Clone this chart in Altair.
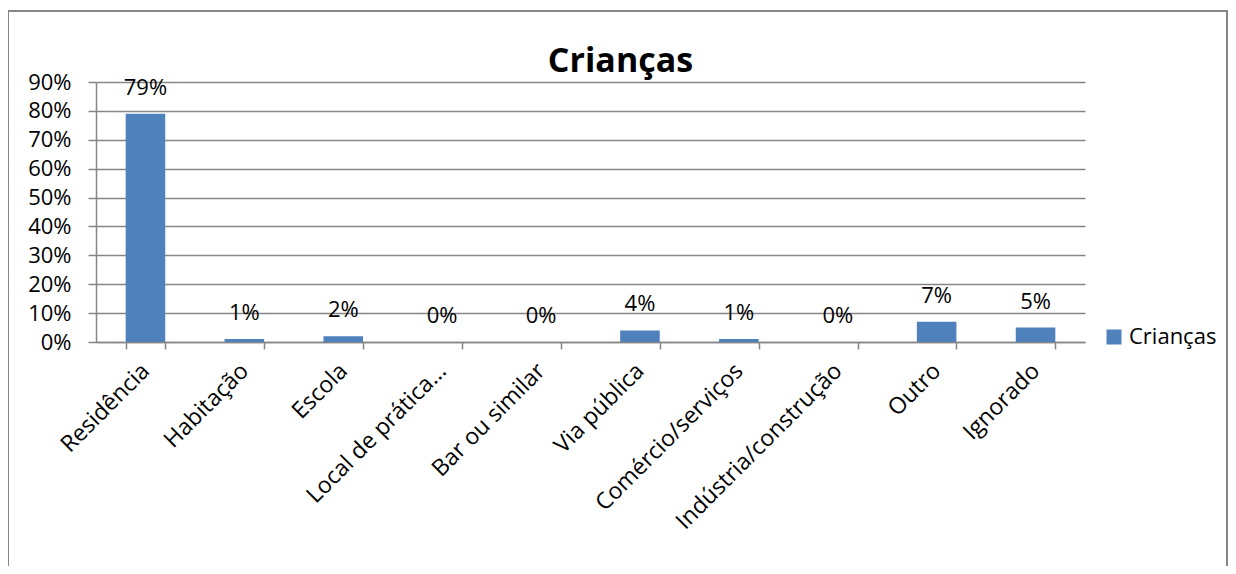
import altair as alt
import pandas as pd

categories = ["Residência", "Habitação", "Escola", "Local de prática...", "Bar ou similar",
              "Via pública", "Comércio/serviços", "Indústria/construção", "Outro", "Ignorado"]
values = [0.79, 0.01, 0.02, 0.0, 0.0, 0.04, 0.01, 0.0, 0.07, 0.05]
series = ["Crianças"] * len(categories)
y_ticks = [0, 0.1, 0.2, 0.3, 0.4, 0.5, 0.6, 0.7, 0.8, 0.9]

df = pd.DataFrame({"cat": categories, "val": values, "series": series})

FONT = "Open Sans"
GRAY = "#868686"
BLUE = "#4F81BD"

x_enc = alt.X("cat:N", sort=categories, title=None,
              scale=alt.Scale(paddingInner=0.6, paddingOuter=0.3),
              axis=alt.Axis(labelAngle=-45, labelAlign="right", labelBaseline="middle",
                            labelFontSize=23, labelFont=FONT, labelColor="black",
                            labelPadding=18, tickSize=7, tickColor=GRAY, tickWidth=1.5,
                            domainColor=GRAY, domainWidth=1.5, tickBand="extent",
                            grid=False, labelLimit=400, labelOverlap=False))
y_enc = alt.Y("val:Q", title=None,
              scale=alt.Scale(domain=[0, 0.9], nice=False),
              axis=alt.Axis(values=y_ticks, format=".0%", labelFontSize=22, labelFont=FONT,
                            labelColor="black", tickSize=8, tickColor=GRAY, tickWidth=1.5,
                            domainColor=GRAY, domainWidth=1.5, gridColor=GRAY, gridWidth=1.5,
                            labelPadding=17, labelOverlap=False))

base = alt.Chart(df).encode(x=x_enc, y=y_enc)

bars = base.mark_bar(color=BLUE).encode(
    color=alt.Color("series:N", scale=alt.Scale(range=[BLUE]), title=None,
                    legend=alt.Legend(orient="none", legendX=1007, legendY=244,
                                      symbolType="square", symbolSize=225,
                                      symbolStrokeWidth=0, labelFontSize=22,
                                      labelFont=FONT, labelColor="black", padding=0,
                                      labelOffset=4))
)

labels = base.mark_text(fontSize=22, font=FONT, color="black",
                        baseline="alphabetic", dy=-19).encode(
    text=alt.Text("val:Q", format=".0%")
)

border = alt.Chart(alt.Data(values=[{"a": 1}])).mark_rect(
    fillOpacity=0, stroke=GRAY, strokeWidth=2
).encode(x=alt.value(-88), x2=alt.value(1131), y=alt.value(-71), y2=alt.value(600))

chart = alt.layer(bars, labels, border).properties(
    width=989, height=260,
    title=alt.TitleParams(text="Crianças", fontSize=34, fontWeight="bold", font=FONT,
                          anchor="middle", dx=30, baseline="alphabetic", offset=-96,
                          color="black"),
    autosize=alt.AutoSizeParams(type="none"),
    padding={"left": 88, "top": 74, "right": 143, "bottom": 224}
).configure_view(stroke=None)

chart.save("out.html", embed_options={"renderer": "svg", "actions": False})
